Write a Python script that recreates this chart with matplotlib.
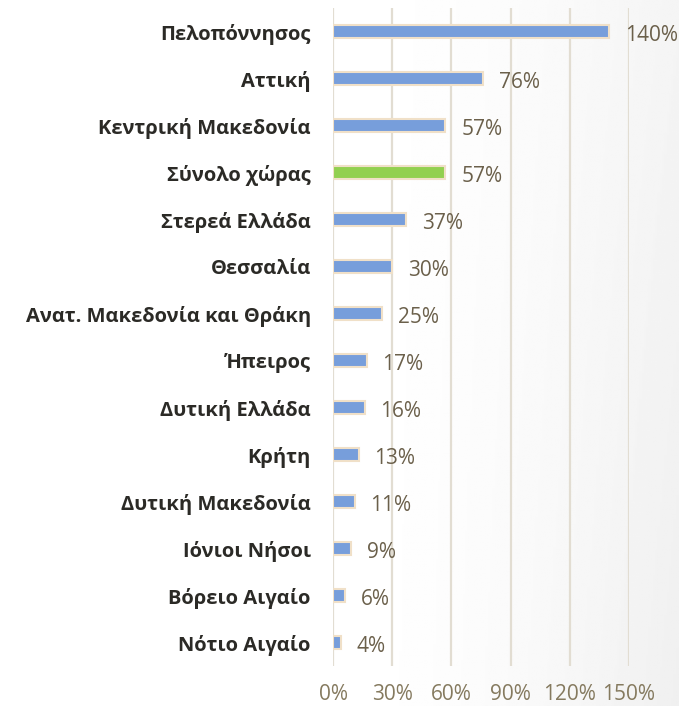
import numpy as np
import matplotlib.pyplot as plt

regions = ['Πελοπόννησος', 'Αττική', 'Κεντρική Μακεδονία', 'Σύνολο χώρας',
           'Στερεά Ελλάδα', 'Θεσσαλία', 'Ανατ. Μακεδονία και Θράκη', 'Ήπειρος',
           'Δυτική Ελλάδα', 'Κρήτη', 'Δυτική Μακεδονία', 'Ιόνιοι Νήσοι',
           'Βόρειο Αιγαίο', 'Νότιο Αιγαίο']
values = [140, 76, 57, 57, 37, 30, 25, 17, 16, 13, 11, 9, 6, 4]
highlight = 'Σύνολο χώρας'
xticks = [0, 30, 60, 90, 120, 150]

plt.rcParams['font.family'] = ['Open Sans', 'DejaVu Sans']

fig = plt.figure(figsize=(6.79, 7.06), dpi=100)

# soft grey shading towards the right, like the slide background
bg = fig.add_axes([0, 0, 1, 1], zorder=-10)
gx = np.linspace(0, 1, 300)
gy = np.linspace(0, 1, 300)
GX, GY = np.meshgrid(gx, gy)
shade = np.clip((GX - 0.5) / 0.5, 0, 1) ** 1.6 * (0.7 + 0.3 * GY)
bg.imshow(1 - 0.06 * shade, cmap='gray', vmin=0, vmax=1, aspect='auto',
          extent=[0, 1, 0, 1], origin='upper')
bg.axis('off')

ax = fig.add_axes([333 / 679, 40 / 706, 296 / 679, 658 / 706])
ax.patch.set_alpha(0)

y = np.arange(len(regions))
colors = ['#92d050' if r == highlight else '#779edb' for r in regions]
ax.barh(y, values, height=0.27, color=colors, edgecolor='#f0e0c8',
        linewidth=1.5, zorder=3)

for yi, v in zip(y, values):
    ax.text(v + 8, yi + 0.08, f'{v}%', va='center', ha='left',
            fontsize=15, color='#6b604b', zorder=4)

ax.set_yticks(y)
ax.set_yticklabels(regions, fontsize=14.5, fontweight='bold', color='#2b2a26')
ax.set_ylim(len(regions) - 0.5, -0.5)
ax.set_xlim(0, 150)
ax.set_xticks(xticks)
ax.set_xticklabels([f'{t}%' for t in xticks], fontsize=15, color='#857a5f')
ax.tick_params(axis='both', length=0)
ax.tick_params(axis='x', pad=13)
ax.tick_params(axis='y', pad=16)
ax.grid(axis='x', color='#e2ddd2', linewidth=1.6, zorder=0)
for s in ax.spines.values():
    s.set_visible(False)

fig.savefig('out.png', dpi=100)
